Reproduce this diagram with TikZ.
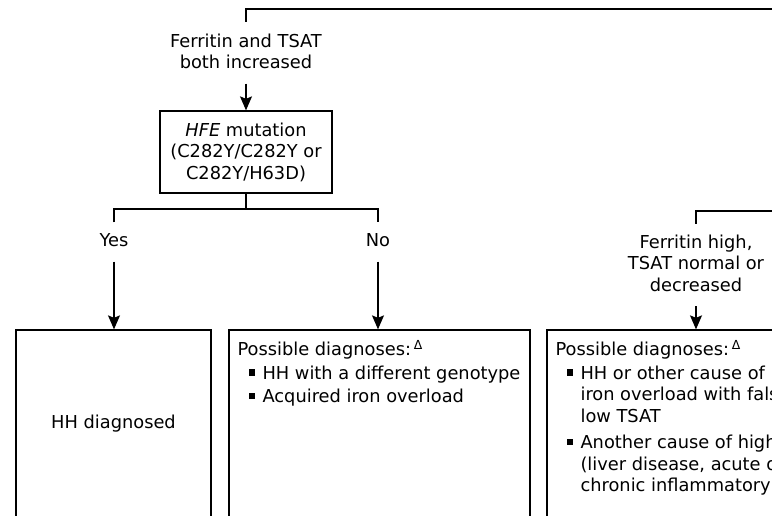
\documentclass[tikz,border=0pt]{standalone}
\usepackage{fontspec}
\setmainfont{DejaVu Sans}
\usetikzlibrary{arrows.meta}

\newcommand{\sqbul}{\rule[3.5pt]{6.5pt}{6.5pt}\hspace{7.5pt}}

\begin{document}
\begin{tikzpicture}[x = 1pt, y = -1pt,
  every node/.style = {font = \fontsize{17.8}{21.5}\selectfont, text = black},
  lbl/.style = {align = center, inner xsep = 2pt, inner ysep = 11pt},
  box/.style = {draw, line width = 1.3pt, align = center},
  txt/.style = {align = left, inner sep = 0pt, anchor = north west},
  arr/.style = {-{Stealth[length = 14pt, width = 12pt, inset = 2.5pt]}, line width = 1.3pt}]
\useasboundingbox (0, 0) rectangle (772, 515);
\clip (0, 0) rectangle (772, 515);
%\draw[very thin, color = gray](0, 0) grid[step = 50] (772, 515);
\coordinate (ttop) at (790, 9);
\coordinate (rtop) at (790, 211);
\coordinate (split) at (246, 209);
\node[lbl] (fboth) at (246, 53) {Ferritin and TSAT\\both increased\vphantom{y}};
\node[box, minimum width = 172, minimum height = 82] (hfe) at (246, 152)
  {\textit{HFE} mutation\\(C282Y/C282Y or\\C282Y/H63D)};
\node[lbl, text depth = 4pt] (yes) at (114, 242) {Yes};
\node[lbl, text depth = 4pt] (no) at (378, 242) {No};
\node[box, minimum width = 195, minimum height = 187] (hh) at (113.5, 423.5) {HH diagnosed};
\node[box, minimum width = 301, minimum height = 187] (nobox) at (379.5, 423.5) {};
\node[lbl] (fhigh) at (696, 265) {Ferritin high,\\TSAT normal or\\decreased\vphantom{y}};
\node[box, minimum width = 301, minimum height = 187] (fbox) at (697.5, 423.5) {};
\node[txt] (notxt) at ([shift = {(9, 11)}]nobox.north west)
  {Possible diagnoses:\,\textsuperscript{Δ}\\[2pt]
   \hspace*{11pt}\sqbul HH with a different genotype\\[2pt]
   \hspace*{11pt}\sqbul Acquired iron overload};
\node[txt] (ftxt) at ([shift = {(9, 11)}]fbox.north west)
  {Possible diagnoses:\,\textsuperscript{Δ}\\[2pt]
   \hspace*{11pt}\sqbul HH or other cause of\\
   \hspace*{25pt}iron overload with falsely\\
   \hspace*{25pt}low TSAT\\[5pt]
   \hspace*{11pt}\sqbul Another cause of high ferritin\\
   \hspace*{25pt}(liver disease, acute or\\
   \hspace*{25pt}chronic inflammatory states)};
\draw[line width = 1.3pt] (ttop) -| (fboth.north);
\draw[arr] (fboth) -- (hfe);
\draw[line width = 1.3pt] (hfe) -- (split);
\draw[line width = 1.3pt] (yes.north) |- (split) -| (no.north);
\draw[arr] (yes) -- (yes |- hh.north);
\draw[arr] (no) -- (no |- nobox.north);
\draw[line width = 1.3pt] (rtop) -| (fhigh.north);
\draw[arr] (fhigh) -- (fhigh |- fbox.north);
\end{tikzpicture}
\end{document}
